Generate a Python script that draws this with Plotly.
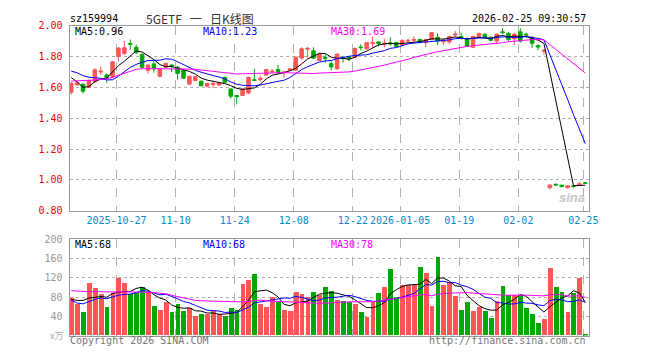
import plotly.graph_objects as go
import pandas as pd

# ---------------- data ----------------
dates = (["2025-10-%02d" % d for d in [15, 16, 17, 20, 21, 22, 23, 24, 27, 28, 29, 30, 31]]
         + ["2025-11-%02d" % d for d in [3, 4, 5, 6, 7, 10, 11, 12, 13, 14, 17, 18, 19, 20, 21, 24, 25, 26, 27, 28]]
         + ["2025-12-%02d" % d for d in [1, 2, 3, 4, 5, 8, 9, 10, 11, 12, 15, 16, 17, 18, 19, 22, 23, 24, 25, 26, 29, 30, 31]]
         + ["2026-01-%02d" % d for d in [5, 6, 7, 8, 9, 12, 13, 14, 15, 16, 19, 20, 21, 22, 23, 26, 27, 28, 29, 30]]
         + ["2026-02-%02d" % d for d in [2, 3, 4, 5, 6, 9, 10, 11, 12, 13, 24, 25]])

open_ = [1.569, 1.617, 1.620, 1.602, 1.637, 1.700, 1.680, 1.670, 1.800, 1.820,
         1.885, 1.860, 1.814, 1.710, 1.752, 1.672, 1.731, 1.745, 1.730, 1.710,
         1.622, 1.645, 1.640, 1.607, 1.618, 1.615, 1.665, 1.590, 1.548, 1.548,
         1.564, 1.650, 1.650, 1.680, 1.700, 1.716, 1.695, 1.712, 1.712, 1.790,
         1.848, 1.837, 1.775, 1.795, 1.754, 1.720, 1.795, 1.800, 1.796, 1.862,
         1.850, 1.885, 1.895, 1.880, 1.888, 1.890, 1.875, 1.900, 1.905, 1.910,
         1.890, 1.910, 1.925, 1.895, 1.895, 1.940, 1.930, 1.917, 1.860, 1.925,
         1.945, 1.925, 1.900, 1.960, 1.950, 1.915, 1.960, 1.945, 1.925, 1.870,
         1.835, 0.950, 0.972, 0.966, 0.950, 0.962, 0.965, 0.982]
high = [1.632, 1.640, 1.627, 1.650, 1.725, 1.735, 1.690, 1.772, 1.862, 1.900,
        1.910, 1.877, 1.820, 1.750, 1.770, 1.722, 1.760, 1.750, 1.740, 1.720,
        1.675, 1.675, 1.645, 1.630, 1.645, 1.635, 1.670, 1.595, 1.550, 1.595,
        1.670, 1.720, 1.675, 1.720, 1.720, 1.745, 1.705, 1.725, 1.800, 1.860,
        1.862, 1.860, 1.820, 1.815, 1.770, 1.820, 1.805, 1.805, 1.860, 1.880,
        1.892, 1.930, 1.897, 1.915, 1.925, 1.895, 1.910, 1.915, 1.930, 1.915,
        1.915, 1.960, 1.950, 1.915, 1.935, 1.965, 1.955, 1.925, 1.935, 1.955,
        1.950, 1.930, 1.950, 1.985, 1.960, 1.955, 1.985, 1.955, 1.930, 1.880,
        1.850, 0.968, 0.978, 0.970, 0.966, 0.968, 0.988, 0.984]
low = [1.552, 1.610, 1.560, 1.598, 1.630, 1.680, 1.630, 1.660, 1.770, 1.810,
       1.845, 1.815, 1.720, 1.690, 1.695, 1.665, 1.725, 1.700, 1.650, 1.655,
       1.615, 1.640, 1.610, 1.600, 1.595, 1.610, 1.630, 1.527, 1.490, 1.545,
       1.555, 1.640, 1.640, 1.675, 1.690, 1.685, 1.660, 1.705, 1.705, 1.780,
       1.790, 1.785, 1.770, 1.760, 1.710, 1.715, 1.760, 1.770, 1.790, 1.840,
       1.845, 1.855, 1.865, 1.860, 1.870, 1.860, 1.870, 1.885, 1.890, 1.885,
       1.860, 1.905, 1.875, 1.875, 1.880, 1.925, 1.910, 1.860, 1.855, 1.920,
       1.920, 1.900, 1.880, 1.945, 1.900, 1.875, 1.890, 1.920, 1.856, 1.840,
       1.810, 0.940, 0.962, 0.952, 0.945, 0.950, 0.962, 0.976]
close = [1.627, 1.630, 1.575, 1.644, 1.714, 1.705, 1.665, 1.766, 1.855, 1.857,
         1.880, 1.825, 1.730, 1.745, 1.720, 1.720, 1.756, 1.740, 1.690, 1.660,
         1.672, 1.670, 1.610, 1.625, 1.625, 1.630, 1.633, 1.543, 1.540, 1.590,
         1.665, 1.645, 1.660, 1.716, 1.705, 1.697, 1.700, 1.720, 1.796, 1.850,
         1.853, 1.790, 1.816, 1.788, 1.733, 1.816, 1.788, 1.785, 1.852, 1.858,
         1.890, 1.890, 1.885, 1.886, 1.882, 1.865, 1.905, 1.905, 1.910, 1.895,
         1.910, 1.955, 1.900, 1.905, 1.930, 1.945, 1.925, 1.866, 1.930, 1.950,
         1.925, 1.905, 1.945, 1.955, 1.910, 1.945, 1.900, 1.940, 1.886, 1.862,
         1.840, 0.968, 0.968, 0.958, 0.962, 0.958, 0.975, 0.978]
volume = [77, 65, 48, 108, 99, 86, 58, 87, 119, 108,
          86, 90, 100, 88, 60, 52, 70, 48, 64, 50,
          57, 39, 44, 45, 50, 44, 40, 56, 52, 106,
          114, 128, 66, 59, 79, 70, 52, 50, 90, 86,
          80, 90, 84, 100, 92, 74, 72, 70, 64, 48,
          38, 70, 88, 100, 138, 80, 104, 104, 104, 142,
          130, 60, 162, 104, 110, 82, 52, 70, 50, 58,
          50, 36, 72, 102, 84, 84, 84, 56, 44, 26,
          34, 140, 100, 90, 48, 88, 118, 2]

# closes / volumes of the 29 sessions before the visible window (needed for the moving averages)
prior_close = [1.60, 1.57, 1.58, 1.60, 1.59, 1.573, 1.44, 1.44, 1.45, 1.48,
               1.51, 1.60, 1.70, 1.74, 1.76, 1.77, 1.78, 1.751, 1.62, 1.616,
               1.74, 1.76, 1.75, 1.74, 1.747, 1.77, 1.755, 1.62, 1.548]
prior_volume = [95, 90, 100, 92, 96, 90, 100, 95, 88, 92,
                98, 96, 90, 95, 100, 95, 150, 140, 130, 135,
                122, 65, 55, 60, 56, 75, 48, 83, 93]

tick_dates = ["2025-10-27", "2025-11-10", "2025-11-24", "2025-12-08", "2025-12-22",
              "2026-01-05", "2026-01-19", "2026-02-02", "2026-02-25"]
tick_labels = ["2025-10-27", "11-10", "11-24", "12-08", "12-22",
               "2026-01-05", "01-19", "02-02", "02-25"]
price_ticks = [0.80, 1.00, 1.20, 1.40, 1.60, 1.80, 2.00]
vol_ticks = [40, 80, 120, 160, 200]

ma_price_labels = ["MA5:0.96", "MA10:1.23", "MA30:1.69"]
ma_vol_labels = ["MA5:68", "MA10:68", "MA30:78"]

# ---------------- derived ----------------
n = len(close)
x = list(range(n))
cs = pd.Series(prior_close + close)
vs = pd.Series(prior_volume + volume)
ma = {w: cs.rolling(w).mean().tolist()[-n:] for w in (5, 10, 30)}
vma = {w: vs.rolling(w).mean().tolist()[-n:] for w in (5, 10, 30)}

RED = "#ff5555"
GREEN = "#00a800"
MONO = "DejaVu Sans Mono"
W, H = 660, 360
GRID = "#b0b0b0"
AXIS = "#9a9a9a"
XBLUE = "#0a88cc"

vol_colors = [RED if c >= o else GREEN for o, c in zip(open_, close)]
tickvals = [dates.index(d) - 0.33 for d in tick_dates]


def px(v):
    return v / W


def py(v):
    return 1 - v / H


fig = go.Figure()
fig.add_trace(go.Candlestick(
    x=x, open=open_, high=high, low=low, close=close,
    increasing=dict(line=dict(color=RED, width=1), fillcolor=RED),
    decreasing=dict(line=dict(color=GREEN, width=1), fillcolor=GREEN),
    whiskerwidth=0, xaxis="x", yaxis="y", showlegend=False, hoverinfo="skip"))
for w, col in ((5, "black"), (10, "#0000ff"), (30, "#ff00ff")):
    fig.add_trace(go.Scatter(x=x, y=ma[w], mode="lines", line=dict(color=col, width=1),
                             xaxis="x", yaxis="y", showlegend=False, hoverinfo="skip"))

fig.add_trace(go.Bar(x=x, y=volume, marker=dict(color=vol_colors, line=dict(width=0)),
                     width=0.82, xaxis="x2", yaxis="y2", showlegend=False, hoverinfo="skip"))
for w, col in ((5, "black"), (10, "#0000ff"), (30, "#ff00ff")):
    fig.add_trace(go.Scatter(x=x, y=vma[w], mode="lines", line=dict(color=col, width=1),
                             xaxis="x2", yaxis="y2", showlegend=False, hoverinfo="skip"))

xdom = [px(70.7), px(597.7)]
xrange_ = [(70.7 - 72.3) / 6.0, (597.7 - 72.3) / 6.0]

common_x = dict(domain=xdom, range=xrange_, tickmode="array", tickvals=tickvals,
                showgrid=True, gridcolor=GRID, griddash="dash", gridwidth=1,
                showline=True, linecolor=AXIS, linewidth=1, mirror=True, ticks="",
                zeroline=False, fixedrange=True)

fig.update_layout(
    width=W, height=H, margin=dict(l=0, r=0, t=0, b=0),
    paper_bgcolor="white", plot_bgcolor="white", showlegend=False,
    boxgap=0.15, bargap=0,
    xaxis=dict(**common_x, anchor="y", ticktext=tick_labels,
               tickfont=dict(family=MONO, size=10, color=XBLUE),
               rangeslider=dict(visible=False)),
    xaxis2=dict(**common_x, anchor="y2", matches="x", showticklabels=False),
    yaxis=dict(domain=[py(211.3), py(20.3)], range=[0.80, 2.00], anchor="x",
               tickmode="array", tickvals=price_ticks,
               ticktext=["%.2f" % v for v in price_ticks],
               showgrid=True, gridcolor=GRID, griddash="dot", gridwidth=1,
               showline=True, linecolor=AXIS, linewidth=1, mirror=True, ticks="",
               zeroline=False, tickfont=dict(family=MONO, size=10, color="#ee0000"),
               ticklabelstandoff=4, fixedrange=True),
    yaxis2=dict(domain=[py(340), py(240.7)], range=[0, 200], anchor="x2",
                tickmode="array", tickvals=vol_ticks, ticktext=[str(v) for v in vol_ticks],
                showgrid=True, gridcolor=GRID, griddash="dot", gridwidth=1,
                showline=True, linecolor=AXIS, linewidth=1, mirror=True, ticks="",
                zeroline=False, tickfont=dict(family=MONO, size=10, color="#999999"),
                ticklabelstandoff=4, fixedrange=True),
)

ann = []


def text(s, x0, y0, color="black", size=10, family=MONO, xanchor="left", **kw):
    ann.append(dict(text=s, x=px(x0), y=py(y0), xref="paper", yref="paper",
                    xanchor=xanchor, yanchor="middle", showarrow=False,
                    font=dict(family=family, size=size, color=color), **kw))


text("sz159994", 69, 12.5)
text("5GETF&nbsp;&nbsp;&nbsp;一&nbsp;&nbsp;&nbsp;日K线图", 203, 12.5, color="#333333", size=12,
     family="Noto Sans CJK SC", xanchor="center")
text("2026-02-25 09:30:57", 597.5, 12.5, xanchor="right")

for s, x0, col in zip(ma_price_labels, (74, 204, 334), ("black", "#0000ff", "#ff00ff")):
    text(s, x0, 26, color=col)
for s, x0, col in zip(ma_vol_labels, (74, 204, 334), ("black", "#0000ff", "#ff00ff")):
    text(s, x0, 246, color=col)

text("x万", 49, 340, color="#aaaaaa", size=9, family="Noto Sans CJK SC")
text("Copyright 2026 SINA.COM", 69, 345.5, color="#777777")
text("http://finance.sina.com.cn", 597.5, 345.5, color="#777777", xanchor="right")
text("<b><i>sina</i></b>", 581, 198, color="#c8c8c8", size=13, family="Liberation Sans",
     xanchor="center")

fig.update_layout(annotations=ann)
fig.write_html("out.html", config={"displayModeBar": False},
               post_script="document.body.style.margin='0';document.body.style.overflow='hidden';")
